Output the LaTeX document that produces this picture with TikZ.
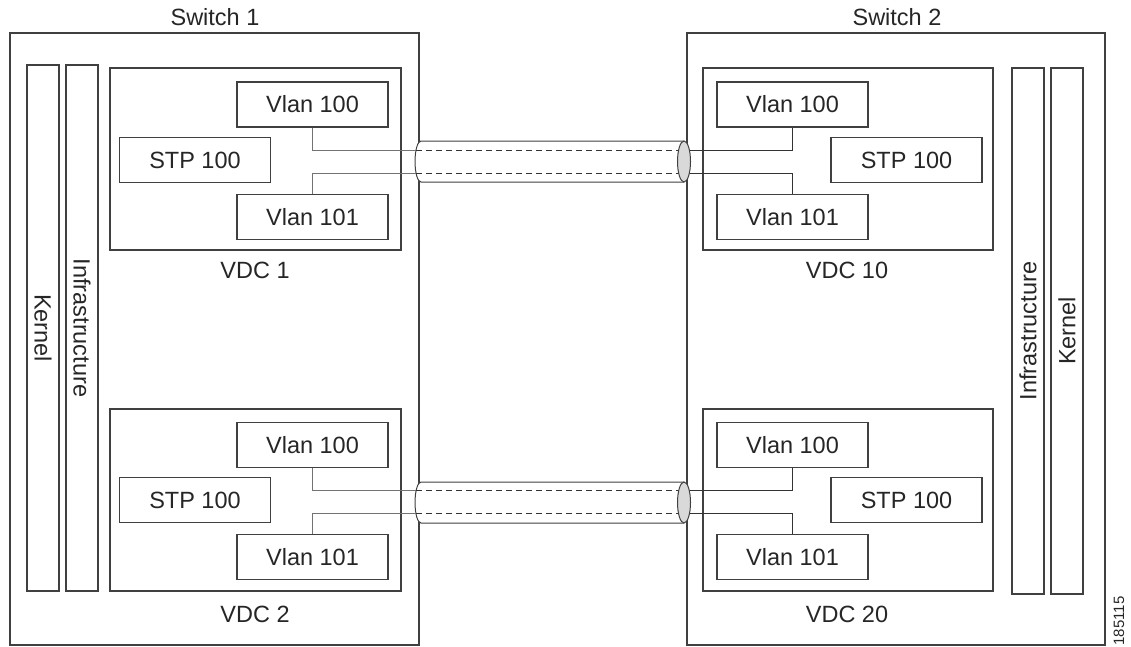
\documentclass[tikz,border=0pt]{standalone}
\usepackage{fontspec}
\setmainfont{Liberation Sans}
\begin{document}
\begin{tikzpicture}[x=1pt,y=-1pt,
	every node/.style={font=\fontsize{23.5}{28}\selectfont, text=black!85, inner sep=0pt},
	switchbox/.style={draw=black!75, line width=1.1pt, minimum width=409pt, minimum height=612pt},
	railbox/.style={draw=black!75, line width=1.1pt, minimum width=526pt, minimum height=32pt},
	vdcbox/.style={draw=black!75, line width=1.1pt, minimum width=291pt, minimum height=182pt},
	vlanbox/.style={draw=black!75, line width=1.1pt, minimum width=151pt, minimum height=45pt},
	link/.style={draw=black!55, line width=0.8pt},
	tube/.style={draw=black!75, line width=1pt, fill=white}]
	\useasboundingbox (0,0) rectangle (1131,646);

	% the switches
	\node[switchbox] (sw1) at (214.5,339) {};
	\node[switchbox, minimum width=418pt] (sw2) at (896,339) {};
	\node (sw1t) at (215,17) {Switch 1};
	\node (sw2t) at (897,17) {Switch 2};

	% kernel and infrastructure
	\node[railbox, rotate=-90] (k1) at (43,328) {Kernel};
	\node[railbox, rotate=-90] (i1) at (82,328) {Infrastructure};
	\node[railbox, rotate=90] (i2) at (1028,331) {Infrastructure};
	\node[railbox, rotate=90] (k2) at (1067,331) {Kernel};

	% the vdcs
	\node[vdcbox] (vdc1) at (255.5,159) {};
	\node[vdcbox] (vdc2) at (255.5,500) {};
	\node[vdcbox, minimum width=290pt] (vdc10) at (848,159) {};
	\node[vdcbox, minimum width=290pt] (vdc20) at (848,500) {};
	\node (vdc1t) at (255,270) {VDC 1};
	\node (vdc2t) at (255,614) {VDC 2};
	\node (vdc10t) at (847,270) {VDC 10};
	\node (vdc20t) at (847,614) {VDC 20};

	% the vlans and stp
	\node[vlanbox] (v100a) at (312.5,104.5) {Vlan 100};
	\node[vlanbox] (stp1) at (195,160) {STP 100};
	\node[vlanbox] (v101a) at (312.5,217) {Vlan 101};

	\node[vlanbox] (v100b) at (312.5,445) {Vlan 100};
	\node[vlanbox] (stp2) at (195,500) {STP 100};
	\node[vlanbox] (v101b) at (312.5,557) {Vlan 101};

	\node[vlanbox] (v100c) at (792.5,104.5) {Vlan 100};
	\node[vlanbox] (stp10) at (906.5,160) {STP 100};
	\node[vlanbox] (v101c) at (792.5,217) {Vlan 101};

	\node[vlanbox] (v100d) at (792.5,445) {Vlan 100};
	\node[vlanbox] (stp20) at (906.5,500) {STP 100};
	\node[vlanbox] (v101d) at (792.5,557) {Vlan 101};

	% the cables
	\draw[tube] (684,141) -- (421,141) arc (270:90:6 and 20.5) -- (684,182);
	\draw[tube] (684,482) -- (421,482) arc (270:90:6 and 20.5) -- (684,523);

	\coordinate (a1) at (416,150);
	\coordinate (a2) at (684,150);
	\coordinate (b1) at (416,173);
	\coordinate (b2) at (684,173);
	\coordinate (c1) at (416,490);
	\coordinate (c2) at (684,490);
	\coordinate (d1) at (416,513);
	\coordinate (d2) at (684,513);

	% draw the links
	\draw[link] (v100a.south) |- (a1);
	\draw[link] (v101a.north) |- (b1);
	\draw[link] (v100b.south) |- (c1);
	\draw[link] (v101b.north) |- (d1);
	\draw[link, dashed, draw=black!80, dash pattern=on 6pt off 4pt] (a1) -- (a2);
	\draw[link, dashed, draw=black!80, dash pattern=on 6pt off 4pt] (b1) -- (b2);
	\draw[link, dashed, draw=black!80, dash pattern=on 6pt off 4pt] (c1) -- (c2);
	\draw[link, dashed, draw=black!80, dash pattern=on 6pt off 4pt] (d1) -- (d2);
	\draw[link, draw=black!80] (a2) -| (v100c.south);
	\draw[link, draw=black!80] (b2) -| (v101c.north);
	\draw[link, draw=black!80] (c2) -| (v100d.south);
	\draw[link, draw=black!80] (d2) -| (v101d.north);

	% cable ends
	\draw[tube, fill=black!15] (684,161.5) ellipse (6.5 and 20.5);
	\draw[tube, fill=black!15] (684,502.5) ellipse (6.5 and 20.5);

	\node[rotate=90, font=\fontsize{15}{18}\selectfont] (fig) at (1119,621) {185115};
\end{tikzpicture}
\end{document}
